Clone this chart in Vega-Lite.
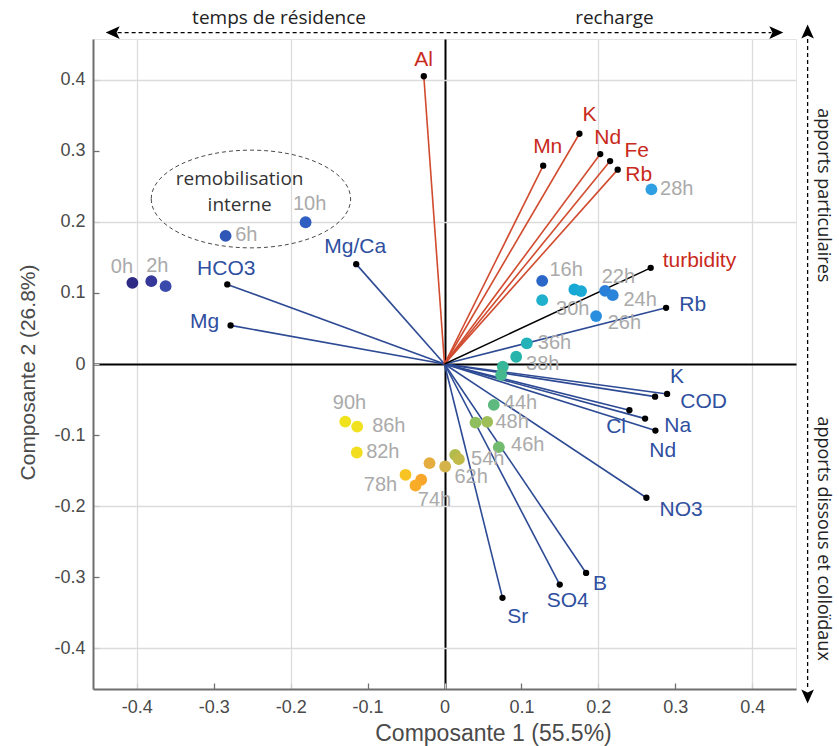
{
  "$schema": "https://vega.github.io/schema/vega-lite/v6.json",
  "width": 703,
  "height": 650,
  "autosize": {"type": "none"},
  "padding": {"left": 93, "top": 39, "right": 43, "bottom": 57},
  "background": "#ffffff",
  "config": {
    "view": {"stroke": "#e4e4e4", "strokeWidth": 1}
  },
  "datasets": {
    "samples": [
      {"s": "0h", "x": -0.4058, "y": 0.1141},
      {"s": "2h", "x": -0.3812, "y": 0.1165},
      {"s": "4h", "x": -0.3626, "y": 0.1095},
      {"s": "6h", "x": -0.2846, "y": 0.1801},
      {"s": "10h", "x": -0.1806, "y": 0.1993},
      {"s": "16h", "x": 0.1270, "y": 0.1169},
      {"s": "22h", "x": 0.2088, "y": 0.1029},
      {"s": "24h", "x": 0.2187, "y": 0.0968},
      {"s": "26h", "x": 0.1971, "y": 0.0674},
      {"s": "28h", "x": 0.2690, "y": 0.2456},
      {"s": "30h", "x": 0.1270, "y": 0.0898},
      {"s": "32h", "x": 0.1689, "y": 0.1048},
      {"s": "34h", "x": 0.1776, "y": 0.1025},
      {"s": "36h", "x": 0.1070, "y": 0.0291},
      {"s": "38h", "x": 0.0932, "y": 0.0102},
      {"s": "40h", "x": 0.0758, "y": -0.0038},
      {"s": "42h", "x": 0.0737, "y": -0.0154},
      {"s": "44h", "x": 0.0641, "y": -0.0575},
      {"s": "46h", "x": 0.0706, "y": -0.1169},
      {"s": "48h", "x": 0.0403, "y": -0.0824},
      {"s": "50h", "x": 0.0555, "y": -0.0814},
      {"s": "52h", "x": 0.0139, "y": -0.1277},
      {"s": "54h", "x": 0.0186, "y": -0.1338},
      {"s": "62h", "x": 0.0009, "y": -0.1441},
      {"s": "66h", "x": -0.0195, "y": -0.1394},
      {"s": "70h", "x": -0.0303, "y": -0.1628},
      {"s": "74h", "x": -0.0377, "y": -0.1708},
      {"s": "78h", "x": -0.0507, "y": -0.1558},
      {"s": "82h", "x": -0.1140, "y": -0.1245},
      {"s": "86h", "x": -0.1135, "y": -0.0880},
      {"s": "90h", "x": -0.1290, "y": -0.0810}
    ],
    "slabels": [
      {"s": "0h", "x": -0.4194, "y": 0.1366},
      {"s": "2h", "x": -0.3734, "y": 0.1380},
      {"s": "6h", "x": -0.2577, "y": 0.1811},
      {"s": "10h", "x": -0.1754, "y": 0.2255},
      {"s": "16h", "x": 0.1582, "y": 0.1319},
      {"s": "22h", "x": 0.2261, "y": 0.1225},
      {"s": "30h", "x": 0.1667, "y": 0.0768},
      {"s": "24h", "x": 0.2543, "y": 0.0898},
      {"s": "26h", "x": 0.2339, "y": 0.0580},
      {"s": "28h", "x": 0.3019, "y": 0.2456},
      {"s": "36h", "x": 0.1430, "y": 0.0291},
      {"s": "38h", "x": 0.1277, "y": 0.0000},
      {"s": "44h", "x": 0.0988, "y": -0.0543},
      {"s": "48h", "x": 0.0880, "y": -0.0810},
      {"s": "46h", "x": 0.1083, "y": -0.1137},
      {"s": "54h", "x": 0.0563, "y": -0.1338},
      {"s": "62h", "x": 0.0347, "y": -0.1590},
      {"s": "74h", "x": -0.0130, "y": -0.1919},
      {"s": "78h", "x": -0.0832, "y": -0.1698},
      {"s": "82h", "x": -0.0802, "y": -0.1231},
      {"s": "86h", "x": -0.0724, "y": -0.0866},
      {"s": "90h", "x": -0.1235, "y": -0.0552}
    ],
    "loadings": [
      {"v": "Al", "g": "part", "x": -0.0269, "y": 0.4046},
      {"v": "Mn", "g": "part", "x": 0.1283, "y": 0.2789},
      {"v": "K", "g": "part", "x": 0.1754, "y": 0.3238},
      {"v": "Nd", "g": "part", "x": 0.2025, "y": 0.2952},
      {"v": "Fe", "g": "part", "x": 0.2153, "y": 0.2853},
      {"v": "Rb", "g": "part", "x": 0.2252, "y": 0.2733},
      {"v": "turbidity", "g": "turb", "x": 0.2681, "y": 0.1352},
      {"v": "Rb", "g": "diss", "x": 0.2881, "y": 0.0790},
      {"v": "HCO3", "g": "diss", "x": -0.2824, "y": 0.1119},
      {"v": "Mg", "g": "diss", "x": -0.2781, "y": 0.0543},
      {"v": "Mg/Ca", "g": "diss", "x": -0.1148, "y": 0.1404},
      {"v": "K", "g": "diss", "x": 0.2894, "y": -0.0421},
      {"v": "COD", "g": "diss", "x": 0.2738, "y": -0.0459},
      {"v": "Cl", "g": "diss", "x": 0.2404, "y": -0.0650},
      {"v": "Na", "g": "diss", "x": 0.2608, "y": -0.0768},
      {"v": "Nd", "g": "diss", "x": 0.2742, "y": -0.0936},
      {"v": "NO3", "g": "diss", "x": 0.2625, "y": -0.1881},
      {"v": "B", "g": "diss", "x": 0.1841, "y": -0.2938},
      {"v": "SO4", "g": "diss", "x": 0.1498, "y": -0.3102},
      {"v": "Sr", "g": "diss", "x": 0.0754, "y": -0.3288}
    ],
    "vlabels": [
      {"v": "Al", "g": "part", "x": -0.0273, "y": 0.4281},
      {"v": "Mn", "g": "part", "x": 0.1342, "y": 0.3050},
      {"v": "K", "g": "part", "x": 0.1884, "y": 0.3495},
      {"v": "Nd", "g": "part", "x": 0.2122, "y": 0.3182},
      {"v": "Fe", "g": "part", "x": 0.2499, "y": 0.2994},
      {"v": "Rb", "g": "part", "x": 0.2525, "y": 0.2662},
      {"v": "turbidity", "g": "part", "x": 0.3314, "y": 0.1446},
      {"v": "Rb", "g": "diss", "x": 0.3227, "y": 0.0824},
      {"v": "HCO3", "g": "diss", "x": -0.2837, "y": 0.1333},
      {"v": "Mg", "g": "diss", "x": -0.3119, "y": 0.0589},
      {"v": "Mg/Ca", "g": "diss", "x": -0.1160, "y": 0.1646},
      {"v": "K", "g": "diss", "x": 0.3024, "y": -0.0187},
      {"v": "COD", "g": "diss", "x": 0.3370, "y": -0.0529},
      {"v": "Cl", "g": "diss", "x": 0.2231, "y": -0.0880},
      {"v": "Na", "g": "diss", "x": 0.3032, "y": -0.0870},
      {"v": "Nd", "g": "diss", "x": 0.2837, "y": -0.1221},
      {"v": "NO3", "g": "diss", "x": 0.3076, "y": -0.2059},
      {"v": "B", "g": "diss", "x": 0.2023, "y": -0.3092},
      {"v": "SO4", "g": "diss", "x": 0.1602, "y": -0.3336},
      {"v": "Sr", "g": "diss", "x": 0.0953, "y": -0.3555}
    ],
    "ellipse": [{"x": -0.2517, "y": 0.232}],
    "notes": [
      {"t": "remobilisation", "x": -0.2664, "y": 0.2606},
      {"t": "interne", "x": -0.2664, "y": 0.2232}
    ],
    "arrows": [
      {"x": -0.425, "y": 0.466, "x2": 0.425, "y2": 0.466},
      {"x": 0.4721, "y": 0.457, "x2": 0.4721, "y2": -0.457}
    ],
    "heads": [
      {"d": "left", "x": -0.4314, "y": 0.466},
      {"d": "right", "x": 0.4314, "y": 0.466},
      {"d": "up", "x": 0.4721, "y": 0.4674},
      {"d": "down", "x": 0.4721, "y": -0.4674}
    ],
    "toptext": [
      {"t": "temps de résidence", "x": -0.2151, "y": 0.487},
      {"t": "recharge", "x": 0.2209, "y": 0.487}
    ],
    "sidetext": [
      {"t": "apports particulaires", "x": 0.4925, "y": 0.2372},
      {"t": "apports dissous et colloïdaux", "x": 0.4925, "y": -0.2456}
    ]
  },
  "encoding": {
    "x": {
      "field": "x",
      "type": "quantitative",
      "scale": {"domain": [-0.457, 0.457], "nice": false, "zero": false},
      "axis": {
        "title": "Composante 1 (55.5%)",
        "titleX": 400,
        "titleY": 44,
        "titleAlign": "center",
        "titleBaseline": "middle",
        "titleFont": "Liberation Sans",
        "titleFontSize": 23,
        "titleFontWeight": "normal",
        "titleColor": "#4a4a4a",
        "values": [-0.4, -0.3, -0.2, -0.1, 0, 0.1, 0.2, 0.3, 0.4],
        "labelExpr": "datum.value == 0 ? '0' : (datum.value < 0 ? '-' : '') + format(abs(datum.value), '.1f')",
        "labelFont": "Liberation Sans",
        "labelFontSize": 18,
        "labelColor": "#4a4a4a",
        "labelPadding": 15,
        "labelFlush": false,
        "grid": true,
        "gridColor": {"condition": {"test": "datum.value == 0", "value": "#000000"}, "value": "#dcdcdc"},
        "gridWidth": {"condition": {"test": "datum.value == 0", "value": 2}, "value": 1.3},
        "gridOpacity": {"condition": {"test": "abs(round(datum.value * 10)) % 2 == 1", "value": 0}, "value": 1},
        "tickSize": -6,
        "tickWidth": 1.3,
        "tickColor": {"condition": {"test": "abs(round(datum.value * 10)) % 2 == 1", "value": "#707070"}, "value": "#cfcfcf"},
        "domainColor": "#6e6e6e",
        "domainWidth": 2
      }
    },
    "y": {
      "field": "y",
      "type": "quantitative",
      "scale": {"domain": [-0.457, 0.457], "nice": false, "zero": false},
      "axis": {
        "title": "Composante 2 (26.8%)",
        "titleX": -65,
        "titleY": 333,
        "titleAlign": "center",
        "titleBaseline": "middle",
        "titleAngle": -90,
        "titleFont": "Liberation Sans",
        "titleFontSize": 21,
        "titleFontWeight": "normal",
        "titleColor": "#4a4a4a",
        "values": [-0.4, -0.3, -0.2, -0.1, 0, 0.1, 0.2, 0.3, 0.4],
        "labelExpr": "datum.value == 0 ? '0' : (datum.value < 0 ? '-' : '') + format(abs(datum.value), '.1f')",
        "labelFont": "Liberation Sans",
        "labelFontSize": 18,
        "labelColor": "#4a4a4a",
        "labelPadding": 14,
        "labelFlush": false,
        "grid": true,
        "gridColor": {"condition": {"test": "datum.value == 0", "value": "#000000"}, "value": "#dcdcdc"},
        "gridWidth": {"condition": {"test": "datum.value == 0", "value": 2}, "value": 1.3},
        "gridOpacity": {"condition": {"test": "abs(round(datum.value * 10)) % 2 == 1", "value": 0}, "value": 1},
        "tickSize": -6,
        "tickWidth": 1.3,
        "tickColor": {"condition": {"test": "abs(round(datum.value * 10)) % 2 == 1", "value": "#707070"}, "value": "#cfcfcf"},
        "domainColor": "#6e6e6e",
        "domainWidth": 2
      }
    }
  },
  "layer": [
    {
      "data": {"name": "loadings"},
      "transform": [{"filter": "datum.g == 'diss'"}],
      "mark": {"type": "rule", "color": "#2d4a94", "strokeWidth": 1.6},
      "encoding": {"x2": {"datum": 0}, "y2": {"datum": 0}}
    },
    {
      "data": {"name": "loadings"},
      "transform": [{"filter": "datum.g == 'part'"}],
      "mark": {"type": "rule", "color": "#d14b2e", "strokeWidth": 1.6},
      "encoding": {"x2": {"datum": 0}, "y2": {"datum": 0}}
    },
    {
      "data": {"name": "loadings"},
      "transform": [{"filter": "datum.g == 'turb'"}],
      "mark": {"type": "rule", "color": "#000000", "strokeWidth": 1.4},
      "encoding": {"x2": {"datum": 0}, "y2": {"datum": 0}}
    },
    {
      "data": {"name": "samples"},
      "mark": {"type": "circle", "size": 140, "opacity": 1},
      "encoding": {
        "color": {
          "field": "s",
          "type": "nominal",
          "legend": null,
          "scale": {
            "domain": ["0h", "2h", "4h", "6h", "10h", "16h", "22h", "24h", "26h", "28h", "30h", "32h", "34h", "36h", "38h", "40h", "42h", "44h", "46h", "48h", "50h", "52h", "54h", "62h", "66h", "70h", "74h", "78h", "82h", "86h", "90h"],
            "range": ["#2d2a84", "#35389a", "#3a4aac", "#2f57b8", "#2f5fc0", "#2b67c8", "#2a80d8", "#2a84da", "#2b8fe0", "#2e9fe2", "#1fb0cc", "#17a8d6", "#1aaad3", "#22b2b8", "#26b5aa", "#37b79a", "#45b88e", "#5db97d", "#72bb6f", "#8ebe5e", "#9ebf58", "#b4bb4d", "#bfba49", "#d4b34a", "#e5ad3f", "#f6a72b", "#f9ac28", "#f8c423", "#f2dd1f", "#f1e11e", "#f0e21d"]
          }
        }
      }
    },
    {
      "data": {"name": "loadings"},
      "mark": {"type": "circle", "size": 40, "color": "#000000", "opacity": 1}
    },
    {
      "data": {"name": "slabels"},
      "mark": {"type": "text", "font": "Liberation Sans", "fontSize": 20, "color": "#aaaaaa", "align": "center", "baseline": "middle"},
      "encoding": {"text": {"field": "s"}}
    },
    {
      "data": {"name": "vlabels"},
      "transform": [{"filter": "datum.g == 'part'"}],
      "mark": {"type": "text", "font": "Liberation Sans", "fontSize": 21, "color": "#c92a20", "align": "center", "baseline": "middle"},
      "encoding": {"text": {"field": "v"}}
    },
    {
      "data": {"name": "vlabels"},
      "transform": [{"filter": "datum.g == 'diss'"}],
      "mark": {"type": "text", "font": "Liberation Sans", "fontSize": 21, "color": "#2f4f9f", "align": "center", "baseline": "middle"},
      "encoding": {"text": {"field": "v"}}
    },
    {
      "data": {"name": "ellipse"},
      "mark": {"type": "point", "shape": "M-1,0A1,0.49,0,1,0,1,0A1,0.49,0,1,0,-1,0Z", "size": 39760, "filled": false, "stroke": "#4a4a4a", "strokeWidth": 1, "strokeDash": [4, 3], "opacity": 1}
    },
    {
      "data": {"name": "notes"},
      "mark": {"type": "text", "font": "Open Sans", "fontSize": 19, "color": "#333333", "align": "center", "baseline": "middle"},
      "encoding": {"text": {"field": "t"}}
    },
    {
      "data": {"name": "arrows"},
      "mark": {"type": "rule", "color": "#000000", "strokeWidth": 1.3, "strokeDash": [4, 3]},
      "encoding": {"x2": {"field": "x2"}, "y2": {"field": "y2"}}
    },
    {
      "data": {"name": "heads"},
      "mark": {"type": "point", "filled": true, "size": 196, "color": "#000000", "opacity": 1},
      "encoding": {
        "shape": {
          "field": "d",
          "type": "nominal",
          "legend": null,
          "scale": {
            "domain": ["left", "right", "up", "down"],
            "range": ["M-1,0L1,-0.9L0.55,0L1,0.9Z", "M1,0L-1,-0.9L-0.55,0L-1,0.9Z", "M0,-1L-0.9,1L0,0.55L0.9,1Z", "M0,1L-0.9,-1L0,-0.55L0.9,-1Z"]
          }
        }
      }
    },
    {
      "data": {"name": "toptext"},
      "mark": {"type": "text", "font": "Open Sans", "fontSize": 19, "color": "#222222", "align": "center", "baseline": "middle"},
      "encoding": {"text": {"field": "t"}}
    },
    {
      "data": {"name": "sidetext"},
      "mark": {"type": "text", "font": "Open Sans", "fontSize": 18, "color": "#222222", "align": "center", "baseline": "middle", "angle": 90},
      "encoding": {"text": {"field": "t"}}
    }
  ]
}
